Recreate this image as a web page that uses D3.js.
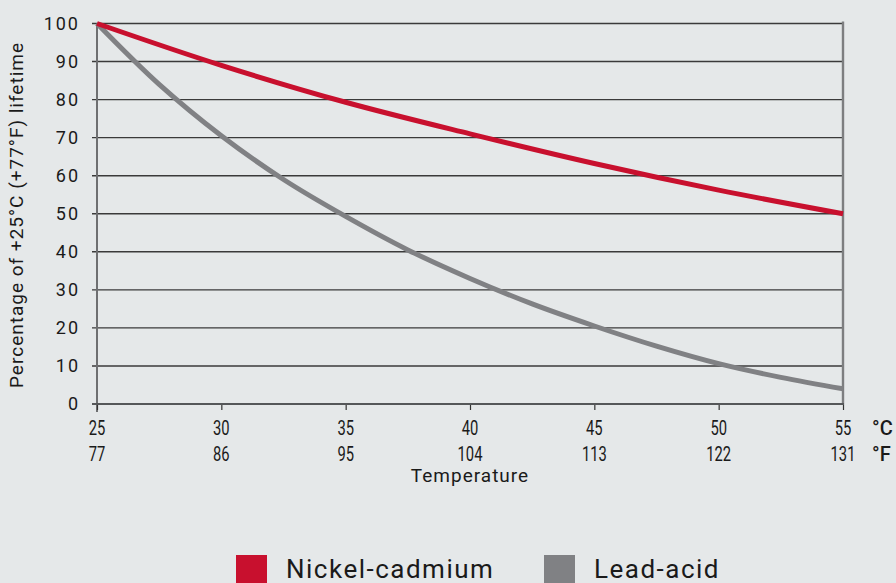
<!DOCTYPE html>
<html>
<head>
<meta charset="utf-8">
<script src="https://d3js.org/d3.v7.min.js"></script>
<style>
body { margin: 0; background: #e5e8e9; }
svg { display: block; background: #e5e8e9; }
text { fill: #1a1a1a; }
.ytick { font-family: Roboto, sans-serif; font-size: 18px; letter-spacing: 2px; }
.xtick { font-family: Roboto, sans-serif; font-size: 20.5px; }
.unit { font-family: Roboto, sans-serif; font-size: 20px; font-weight: 500; }
.title { font-family: Roboto, sans-serif; font-size: 19px; letter-spacing: 1px; }
.legend { font-family: Roboto, sans-serif; font-size: 26px; letter-spacing: 1.5px; }
</style>
</head>
<body>
<div id="chart"></div>
<script>
// temperatures in °C and matching °F labels
var tempC = [25, 30, 35, 40, 45, 50, 55];
var tempF = [77, 86, 95, 104, 113, 122, 131];
var yTicks = [0, 10, 20, 30, 40, 50, 60, 70, 80, 90, 100];

// (°C, % of lifetime)
var nicadT = [25, 30, 35, 40, 45, 50, 55];
var nicadV = [100, 89, 79.3, 71, 63.2, 56.2, 50];
var leadT = [25, 27.5, 30, 32.5, 35, 37.5, 40, 42.5, 45, 47.5, 50, 52.5, 55];
var leadV = [100, 84, 70.5, 59, 49.3, 40.5, 33, 26.3, 20.5, 15.2, 10.6, 7, 4];

var seriesNames = ["Nickel-cadmium", "Lead-acid"];
var colors = ["#c8102e", "#808184"];

var width = 896, height = 583;
var svg = d3.select("#chart").append("svg")
  .attr("width", width).attr("height", height);

var x = d3.scaleLinear().domain([25, 55]).range([97, 843]);
var y = d3.scaleLinear().domain([0, 100]).range([404, 23.5]);

// gridlines
svg.append("g").selectAll("line").data(yTicks.slice(1)).enter().append("line")
  .attr("x1", 92).attr("x2", x(55))
  .attr("y1", function (d) { return y(d); }).attr("y2", function (d) { return y(d); })
  .attr("stroke", "#3a3a3a").attr("stroke-width", 1.4);

// y tick labels
svg.append("g").selectAll("text").data(yTicks).enter().append("text")
  .attr("class", "ytick")
  .attr("x", 80).attr("y", function (d) { return y(d); })
  .attr("dy", "0.36em").attr("text-anchor", "end")
  .text(function (d) { return d; });

// left and right vertical lines
svg.append("line").attr("x1", x(25)).attr("x2", x(25)).attr("y1", y(100)).attr("y2", 412)
  .attr("stroke", "#6e6f71").attr("stroke-width", 2);
svg.append("line").attr("x1", x(55)).attr("x2", x(55)).attr("y1", y(100) - 2).attr("y2", y(0))
  .attr("stroke", "#7d7e80").attr("stroke-width", 2.4);

// bottom axis
var xAxis = d3.axisBottom(x).tickValues(tempC).tickSize(6).tickSizeOuter(0).tickFormat("");
var gx = svg.append("g").attr("transform", "translate(0," + y(0) + ")").call(xAxis);
gx.select(".domain").remove();
gx.selectAll(".tick line").attr("stroke", "#333").attr("stroke-width", 1.2);
svg.append("line").attr("x1", 92).attr("x2", x(55) + 1).attr("y1", y(0)).attr("y2", y(0))
  .attr("stroke", "#555759").attr("stroke-width", 2.2);

// condensed look: squeeze horizontally
svg.append("g").selectAll("text").data(tempC).enter().append("text")
  .attr("class", "xtick").attr("text-anchor", "middle")
  .attr("transform", function (d) { return "translate(" + x(d) + ",435) scale(0.72,1)"; })
  .text(function (d) { return d; });
svg.append("g").selectAll("text").data(tempF).enter().append("text")
  .attr("class", "xtick").attr("text-anchor", "middle")
  .attr("transform", function (d, i) { return "translate(" + x(tempC[i]) + ",461) scale(0.72,1)"; })
  .text(function (d) { return d; });

svg.append("text").attr("class", "unit").attr("x", 872).attr("y", 435).text("°C");
svg.append("text").attr("class", "unit").attr("x", 872).attr("y", 461).text("°F");

// axis titles
svg.append("text").attr("class", "title").attr("text-anchor", "middle")
  .attr("x", 470).attr("y", 482).text("Temperature");
svg.append("text").attr("class", "title").attr("text-anchor", "middle")
  .attr("transform", "translate(23,215) rotate(-90)").text("Percentage of +25°C (+77°F) lifetime");

// curves
var line = d3.line()
  .x(function (d) { return x(d[0]); })
  .y(function (d) { return y(d[1]); })
  .curve(d3.curveCatmullRom.alpha(0.5));

var leadData = leadT.map(function (t, i) { return [t, leadV[i]]; });
var nicadData = nicadT.map(function (t, i) { return [t, nicadV[i]]; });

svg.append("path").datum(leadData).attr("d", line)
  .attr("fill", "none").attr("stroke", colors[1]).attr("stroke-width", 5);
svg.append("path").datum(nicadData).attr("d", line)
  .attr("fill", "none").attr("stroke", colors[0]).attr("stroke-width", 5);

// legend
var legendX = [236, 544];
var lg = svg.append("g").selectAll("g").data(seriesNames).enter().append("g")
  .attr("transform", function (d, i) { return "translate(" + legendX[i] + ",555)"; });
lg.append("rect").attr("width", 31).attr("height", 28)
  .attr("fill", function (d, i) { return colors[i]; });
lg.append("text").attr("class", "legend").attr("x", 50).attr("y", 23)
  .text(function (d) { return d; });
</script>
</body>
</html>
